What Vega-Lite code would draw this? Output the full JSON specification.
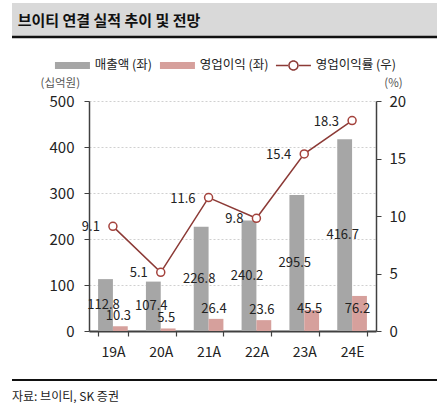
{
  "$schema": "https://vega.github.io/schema/vega-lite/v6.json",
  "padding": {"left": 10, "top": 3, "right": 0, "bottom": 0},
  "background": "white",
  "spacing": 20,
  "resolve": {"scale": {"color": "independent"}, "legend": {"color": "independent"}},
  "config": {
    "font": "Noto Sans CJK KR",
    "view": {"stroke": null},
    "axis": {"labelFont": "Noto Sans CJK KR", "titleFont": "Noto Sans CJK KR", "labelColor": "#222222", "domainColor": "#404040", "tickColor": "#404040", "grid": false},
    "legend": {"labelFont": "Noto Sans CJK KR"},
    "title": {"font": "Noto Sans CJK KR"}
  },
  "datasets": {
    "fin": [
      {"year": "19A", "sales": 112.8, "op": 10.3, "opm": 9.1},
      {"year": "20A", "sales": 107.4, "op": 5.5, "opm": 5.1},
      {"year": "21A", "sales": 226.8, "op": 26.4, "opm": 11.6},
      {"year": "22A", "sales": 240.2, "op": 23.6, "opm": 9.8},
      {"year": "23A", "sales": 295.5, "op": 45.5, "opm": 15.4},
      {"year": "24E", "sales": 416.7, "op": 76.2, "opm": 18.3}
    ]
  },
  "vconcat": [
    {
      "width": 425,
      "height": 34,
      "view": {"fill": "#d9d9d9", "stroke": null},
      "title": {"text": "브이티 연결 실적 추이 및 전망", "anchor": "start", "orient": "top", "offset": -26, "dx": 7, "fontSize": 15, "fontWeight": "bold", "color": "#111111"},
      "data": {"values": [{"v": 0}]},
      "mark": {"type": "rule", "color": "#111111", "strokeWidth": 2.5},
      "encoding": {"y": {"field": "v", "type": "quantitative", "scale": {"domain": [0, 1]}, "axis": null}}
    },
    {
      "spacing": 0,
      "resolve": {"scale": {"color": "independent"}, "legend": {"color": "independent"}},
      "hconcat": [
        {
          "width": 28,
          "height": 10,
          "view": {"stroke": null},
          "data": {"values": []},
          "mark": "text"
        },
        {
          "width": 287,
          "height": 230,
          "view": {"stroke": null},
          "data": {"name": "fin"},
          "encoding": {
            "x": {
              "field": "year", "type": "nominal", "sort": null,
              "scale": {"paddingInner": 0.38, "paddingOuter": 0.19},
              "axis": {"title": null, "labelAngle": 0, "tickBand": "extent", "tickSize": 5, "domainWidth": 2, "tickWidth": 1.2, "labelPadding": 9, "labelFontSize": 14}
            }
          },
          "layer": [
            {
              "transform": [{"fold": ["sales", "op"], "as": ["key", "value"]}],
              "layer": [
                {
                  "mark": {"type": "bar"},
                  "encoding": {
                    "xOffset": {"field": "key", "type": "nominal", "scale": {"domain": ["sales", "op"], "paddingInner": 0, "paddingOuter": 0}},
                    "y": {
                      "field": "value", "type": "quantitative",
                      "scale": {"domain": [0, 500]},
                      "axis": {"values": [0, 100, 200, 300, 400, 500], "grid": true, "gridColor": "#d0d0d0", "gridDash": [2, 2], "gridWidth": 1, "domainWidth": 1.5, "tickSize": 5, "labelPadding": 10, "labelFontSize": 15, "title": "(십억원)", "titleAngle": 0, "titleX": -49, "titleY": -18, "titleAlign": "left", "titleBaseline": "middle", "titleFontSize": 11.5, "titleFontWeight": "normal", "titleColor": "#555555"}
                    },
                    "color": {
                      "field": "key", "type": "nominal",
                      "scale": {"domain": ["sales", "op", "opm"], "range": ["#a6a6a6", "#d6a09c", "#8c3a36"]},
                      "legend": {
                        "orient": "none", "legendX": -35.3, "legendY": -42, "direction": "horizontal", "title": null,
                        "labelExpr": "datum.value === 'sales' ? '매출액 (좌)' : datum.value === 'op' ? '영업이익 (좌)' : '영업이익률 (우)'",
                        "symbolSize": 100, "labelOffset": 28.5, "columnPadding": 6, "labelFontSize": 12.5, "labelColor": "#222222",
                        "encode": {"symbols": {"update": {
                          "shape": {"signal": "datum.value === 'opm' ? 'M-1,-0.15H1.5V0.15H-1ZM3.5,-0.15H6V0.15H3.5ZM1.45,0A1.05,1.05 0 1,0 3.55,0A1.05,1.05 0 1,0 1.45,0ZM1.75,0A0.75,0.75 0 1,1 3.25,0A0.75,0.75 0 1,1 1.75,0Z' : 'M-1,-0.7H6V0.7H-1Z'"},
                          "fill": {"signal": "datum.value === 'opm' ? '#8c3a36' : datum.value === 'op' ? '#d6a09c' : '#a6a6a6'"},
                          "stroke": {"value": "transparent"},
                          "strokeWidth": {"value": 0},
                          "opacity": {"value": 1}
                        }}}
                      }
                    }
                  }
                },
                {
                  "transform": [{"calculate": "datum.key === 'sales' ? datum.value / 2 : min(datum.value + 22, 48)", "as": "labelPos"}],
                  "mark": {"type": "text", "fontSize": 13, "color": "#222222", "baseline": "middle", "dx": -2},
                  "encoding": {
                    "xOffset": {"field": "key", "type": "nominal", "scale": {"domain": ["sales", "op"], "paddingInner": 0, "paddingOuter": 0}},
                    "y": {"field": "labelPos", "type": "quantitative"},
                    "text": {"field": "value", "type": "quantitative", "format": ".1f"}
                  }
                }
              ]
            },
            {
              "layer": [
                {
                  "mark": {"type": "line", "strokeWidth": 1.5},
                  "encoding": {
                    "y": {
                      "field": "opm", "type": "quantitative",
                      "scale": {"domain": [0, 20]},
                      "axis": {"orient": "right", "values": [0, 5, 10, 15, 20], "grid": false, "domainWidth": 1.5, "tickSize": 5, "labelPadding": 8, "labelFontSize": 15, "title": "(%)", "titleAngle": 0, "titleX": 17, "titleY": -18, "titleAlign": "center", "titleBaseline": "middle", "titleFontSize": 11.5, "titleFontWeight": "normal", "titleColor": "#555555"}
                    },
                    "color": {
                      "datum": "opm", "type": "nominal",
                      "scale": {"domain": ["sales", "op", "opm"], "range": ["#a6a6a6", "#d6a09c", "#8c3a36"]},
                      "legend": {
                        "orient": "none", "legendX": -35.3, "legendY": -42, "direction": "horizontal", "title": null,
                        "labelExpr": "datum.value === 'sales' ? '매출액 (좌)' : datum.value === 'op' ? '영업이익 (좌)' : '영업이익률 (우)'",
                        "symbolSize": 100, "labelOffset": 28.5, "columnPadding": 6, "labelFontSize": 12.5, "labelColor": "#222222",
                        "encode": {"symbols": {"update": {
                          "shape": {"signal": "datum.value === 'opm' ? 'M-1,-0.15H1.5V0.15H-1ZM3.5,-0.15H6V0.15H3.5ZM1.45,0A1.05,1.05 0 1,0 3.55,0A1.05,1.05 0 1,0 1.45,0ZM1.75,0A0.75,0.75 0 1,1 3.25,0A0.75,0.75 0 1,1 1.75,0Z' : 'M-1,-0.7H6V0.7H-1Z'"},
                          "fill": {"signal": "datum.value === 'opm' ? '#8c3a36' : datum.value === 'op' ? '#d6a09c' : '#a6a6a6'"},
                          "stroke": {"value": "transparent"},
                          "strokeWidth": {"value": 0},
                          "opacity": {"value": 1}
                        }}}
                      }
                    }
                  }
                },
                {
                  "mark": {"type": "point", "filled": true, "fill": "#ffffff", "stroke": "#a4423c", "strokeWidth": 1.5, "size": 64, "opacity": 1},
                  "encoding": {"y": {"field": "opm", "type": "quantitative"}}
                },
                {
                  "mark": {"type": "text", "fontSize": 13, "color": "#222222", "align": "right", "baseline": "middle", "dx": -13, "dy": 1},
                  "encoding": {
                    "y": {"field": "opm", "type": "quantitative"},
                    "text": {"field": "opm", "type": "quantitative", "format": ".1f"}
                  }
                }
              ]
            }
          ],
          "resolve": {"scale": {"y": "independent"}}
        }
      ]
    },
    {
      "width": 425,
      "height": 2,
      "view": {"fill": "#111111", "stroke": null},
      "title": {"text": "자료: 브이티, SK 증권", "orient": "bottom", "anchor": "start", "offset": 11, "fontSize": 12, "fontWeight": "normal", "color": "#222222"},
      "data": {"values": []},
      "mark": "text"
    }
  ]
}
